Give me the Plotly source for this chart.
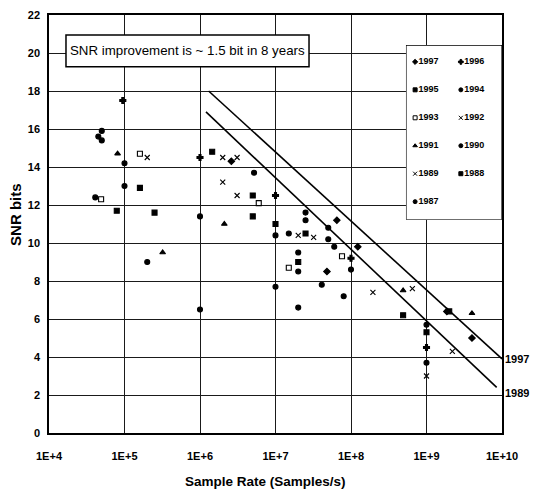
import plotly.graph_objects as go

# ---------------- data ----------------
years = ["1997", "1996", "1995", "1994", "1993", "1992", "1991", "1990", "1989", "1988", "1987"]
symbols = ["diamond", "cross", "square", "circle", "square-open", "x-thin",
           "triangle-up", "circle", "x-thin", "square", "circle"]

x_1997 = [1.86e9, 4.0e9, 1.23e8, 6.5e7, 2.6e6, 4.8e7]
y_1997 = [6.4, 5.0, 9.8, 11.2, 14.3, 8.5]
x_1996 = [9.5e4, 1.0e6, 1.0e7, 1.0e9, 1.0e8]
y_1996 = [17.5, 14.5, 12.5, 4.5, 9.2]
x_1995 = [1.45e6, 5.0e6, 2.5e7, 4.9e8, 2.0e9, 1.6e5]
y_1995 = [14.8, 12.5, 10.5, 6.2, 6.4, 12.9]
x_1994 = [5.0e4, 1.0e5, 5.2e6, 5.0e7, 1.0e9]
y_1994 = [15.9, 13.0, 13.7, 10.8, 5.7]
x_1993 = [4.9e4, 6.0e6, 1.5e7, 7.6e7, 1.6e5]
y_1993 = [12.3, 12.1, 8.7, 9.3, 14.7]
x_1992 = [2.0e5, 2.0e6, 3.1e6, 3.1e6, 2.0e7, 6.5e8]
y_1992 = [14.5, 14.5, 14.5, 12.5, 10.4, 7.6]
x_1991 = [8.1e4, 3.2e5, 2.1e6, 4.9e8, 4.0e9]
y_1991 = [14.7, 9.5, 11.0, 7.5, 6.3]
x_1990 = [4.1e4, 4.5e4, 2.0e5, 4.1e7, 8.0e7, 2.0e7, 1.0e9]
y_1990 = [12.4, 15.6, 9.0, 7.8, 7.2, 6.6, 3.7]
x_1989 = [2.0e6, 3.2e7, 2.2e9, 1.0e9, 1.95e8]
y_1989 = [13.2, 10.3, 4.3, 3.0, 7.4]
x_1988 = [7.9e4, 2.5e5, 5.0e6, 2.0e7, 1.0e9, 1.0e7]
y_1988 = [11.7, 11.6, 11.4, 9.0, 5.3, 11.0]
x_1987 = [5.0e4, 1.0e5, 1.0e6, 1.0e6, 1.0e7, 1.0e7, 1.5e7, 2.5e7,
          5.0e7, 6.0e7, 1.0e8, 2.0e7, 2.0e7, 2.5e7]
y_1987 = [15.4, 14.2, 11.4, 6.5, 7.7, 10.4, 10.5, 11.6,
          10.2, 9.8, 8.6, 9.5, 8.5, 11.2]

# trend lines
upper_x = [1.3e6, 1.0e10]
upper_y = [18.0, 3.9]
lower_x = [1.2e6, 8.5e9]
lower_y = [16.9, 2.4]
line_labels = ["1997", "1989"]

x_tickvals = [1e4, 1e5, 1e6, 1e7, 1e8, 1e9, 1e10]
x_ticktext = ["1E+4", "1E+5", "1E+6", "1E+7", "1E+8", "1E+9", "1E+10"]
y_tickvals = list(range(0, 23, 2))

xs_all = [x_1997, x_1996, x_1995, x_1994, x_1993, x_1992, x_1991, x_1990, x_1989, x_1988, x_1987]
ys_all = [y_1997, y_1996, y_1995, y_1994, y_1993, y_1992, y_1991, y_1990, y_1989, y_1988, y_1987]

SANS = "Liberation Sans, Arial, sans-serif"


def sfont(size, bold=True):
    d = dict(family=SANS, size=size, color="black")
    if bold:
        d["weight"] = "bold"
    return d


fig = go.Figure()

for name, xs, ys, sym in zip(years, xs_all, ys_all, symbols):
    fig.add_trace(go.Scatter(
        x=xs, y=ys, mode="markers", name=name, showlegend=False,
        marker=dict(symbol=sym, size=5, color="black",
                    line=dict(color="black", width=1.1)),
    ))

for lx, ly in [(upper_x, upper_y), (lower_x, lower_y)]:
    fig.add_trace(go.Scatter(x=lx, y=ly, mode="lines", showlegend=False,
                             line=dict(color="black", width=1.6)))

# custom two-column legend on helper axes
for i, (name, sym) in enumerate(zip(years, symbols)):
    col, row = i % 2, i // 2
    fig.add_trace(go.Scatter(
        x=[col + 0.2], y=[row], mode="markers+text", text=[name],
        textposition="middle right", showlegend=False,
        textfont=sfont(9),
        marker=dict(symbol=sym, size=4, color="black",
                    line=dict(color="black", width=1)),
        xaxis="x2", yaxis="y2", cliponaxis=False,
    ))

annotations = [
    dict(text="SNR improvement is ~ 1.5 bit in 8 years", xref="paper", yref="paper",
         x=0.306, y=0.914, xanchor="center", yanchor="middle", showarrow=False,
         font=sfont(13.3, bold=False)),
    dict(text="SNR bits", xref="paper", yref="paper", x=-0.073, y=0.524,
         textangle=-90, showarrow=False, xanchor="center", yanchor="middle",
         font=sfont(15)),
    dict(text="Sample Rate (Samples/s)", xref="paper", yref="paper", x=0.479, y=-0.117,
         showarrow=False, xanchor="center", yanchor="middle",
         font=sfont(13.5)),
]
for lbl, ly in zip(line_labels, [upper_y[-1], 2.1]):
    annotations.append(dict(text=lbl, x=10, y=ly, xref="x", yref="y", xanchor="left",
                            yanchor="middle", showarrow=False, xshift=1,
                            font=sfont(11)))

fig.update_layout(
    width=541, height=498,
    margin=dict(l=49, r=39, t=15, b=65, autoexpand=False),
    paper_bgcolor="white", plot_bgcolor="white",
    xaxis=dict(type="log", range=[4, 10], tickvals=x_tickvals, ticktext=x_ticktext,
               showgrid=True, gridcolor="#1a1a1a", gridwidth=1,
               showline=True, linecolor="black", linewidth=1.5, mirror=True,
               ticks="", ticklabelstandoff=12,
               tickfont=sfont(11),
               zeroline=False),
    yaxis=dict(range=[0, 22], tickvals=y_tickvals,
               showgrid=True, gridcolor="#1a1a1a", gridwidth=1,
               showline=True, linecolor="black", linewidth=1.5, mirror=True,
               ticks="", ticklabelstandoff=5,
               tickfont=sfont(11),
               zeroline=False),
    xaxis2=dict(domain=[0.788, 1.0], range=[0, 2.1], visible=False, anchor="y2"),
    yaxis2=dict(domain=[0.51, 0.928], range=[5.65, -0.6], visible=False, anchor="x2"),
    shapes=[
        dict(type="rect", xref="x2", yref="y2", x0=0, x1=2.1, y0=5.65, y1=-0.6,
             fillcolor="white", line=dict(color="black", width=1.2), layer="below"),
        dict(type="rect", xref="paper", yref="paper", x0=0.0375, x1=0.574, y0=0.876, y1=0.952,
             fillcolor="white", line=dict(color="black", width=1.5), layer="above"),
    ],
    annotations=annotations,
)

fig.write_html("out.html")
